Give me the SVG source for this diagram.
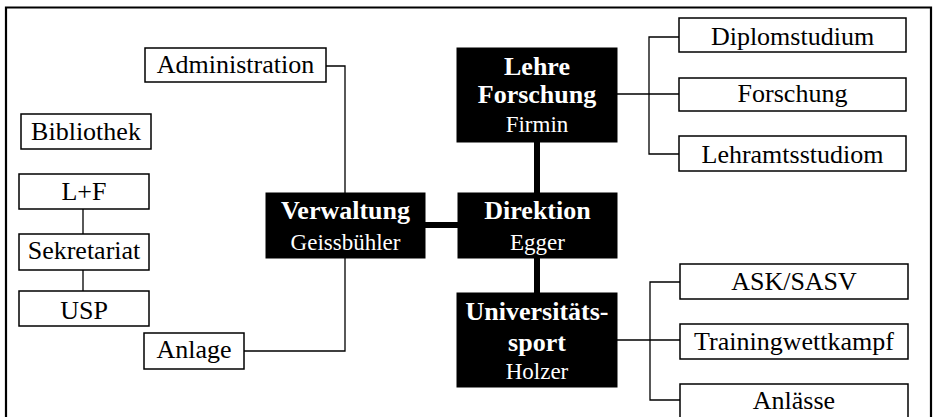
<svg xmlns="http://www.w3.org/2000/svg" width="936" height="417" viewBox="0 0 936 417">
<style>
.box{fill:#fff;stroke:#000;stroke-width:1.5}
.dark{fill:#000;stroke:#000;stroke-width:1}
.t{font-family:"Liberation Serif","Times New Roman",serif;font-size:26px;fill:#000;text-anchor:middle}
.h{font-family:"Liberation Serif","Times New Roman",serif;font-size:26px;font-weight:bold;fill:#fff;text-anchor:middle}
.s{font-family:"Liberation Serif","Times New Roman",serif;font-size:23px;fill:#fff;text-anchor:middle}
.thin{fill:none;stroke:#000;stroke-width:1.3}
.thick{fill:none;stroke:#000;stroke-width:6}
</style>
<rect width="936" height="417" fill="#fff"/>
<path d="M6,420 V7.5 H931 V420" fill="none" stroke="#000" stroke-width="2.2"/>
<g id="connectors">
<path class="thin" d="M326,66 H345 V193"/>
<path class="thin" d="M244,351 H345 V258"/>
<path class="thin" d="M83,209 V234 M83,270 V291"/>
<path class="thin" d="M617,94 H679 M679,37 H649 V154 H679"/>
<path class="thin" d="M617,340 H680 M680,282 H650 V400 H680"/>
<path class="thick" d="M425,225 H458"/>
<path class="thick" d="M537,142 V193 M537,258 V293"/>
</g>
<g id="administration"><rect class="box" x="145" y="48" width="181" height="34"/><text class="t" x="235.5" y="73">Administration</text></g>
<g id="bibliothek"><rect class="box" x="21" y="114" width="130" height="35"/><text class="t" x="86" y="140">Bibliothek</text></g>
<g id="lf"><rect class="box" x="19" y="174" width="130" height="35"/><text class="t" x="84" y="200">L+F</text></g>
<g id="sekretariat"><rect class="box" x="19" y="234" width="130" height="36"/><text class="t" x="84" y="259">Sekretariat</text></g>
<g id="usp"><rect class="box" x="19" y="291" width="130" height="35"/><text class="t" x="84" y="319">USP</text></g>
<g id="anlage"><rect class="box" x="144" y="333" width="100" height="36"/><text class="t" x="194" y="358">Anlage</text></g>
<g id="verwaltung"><rect class="dark" x="266" y="193" width="159" height="65"/><text class="h" x="345.5" y="219">Verwaltung</text><text class="s" x="345.5" y="250">Geissbühler</text></g>
<g id="direktion"><rect class="dark" x="458" y="193" width="159" height="65"/><text class="h" x="537.5" y="219">Direktion</text><text class="s" x="537.5" y="250">Egger</text></g>
<g id="lehre"><rect class="dark" x="457" y="48" width="160" height="94"/><text class="h" x="537" y="75" font-size="25">Lehre</text><text class="h" x="537" y="103" font-size="25">Forschung</text><text class="s" x="537" y="132">Firmin</text></g>
<g id="unisport"><rect class="dark" x="457" y="293" width="160" height="94"/><text class="h" x="537" y="320">Universitäts-</text><text class="h" x="537" y="351">sport</text><text class="s" x="537" y="379">Holzer</text></g>
<g id="diplomstudium"><rect class="box" x="679" y="18" width="227" height="34"/><text class="t" x="792.5" y="45">Diplomstudium</text></g>
<g id="forschung"><rect class="box" x="679" y="78" width="227" height="33"/><text class="t" x="792.5" y="102">Forschung</text></g>
<g id="lehramtsstudiom"><rect class="box" x="679" y="136" width="227" height="35"/><text class="t" x="792.5" y="163">Lehramtsstudiom</text></g>
<g id="asksasv"><rect class="box" x="680" y="264" width="228" height="35"/><text class="t" x="794" y="290">ASK/SASV</text></g>
<g id="training"><rect class="box" x="680" y="324" width="228" height="35"/><text class="t" x="794" y="350">Trainingwettkampf</text></g>
<g id="anlaesse"><rect class="box" x="680" y="384" width="228" height="40"/><text class="t" x="794" y="409">Anlässe</text></g>
</svg>
